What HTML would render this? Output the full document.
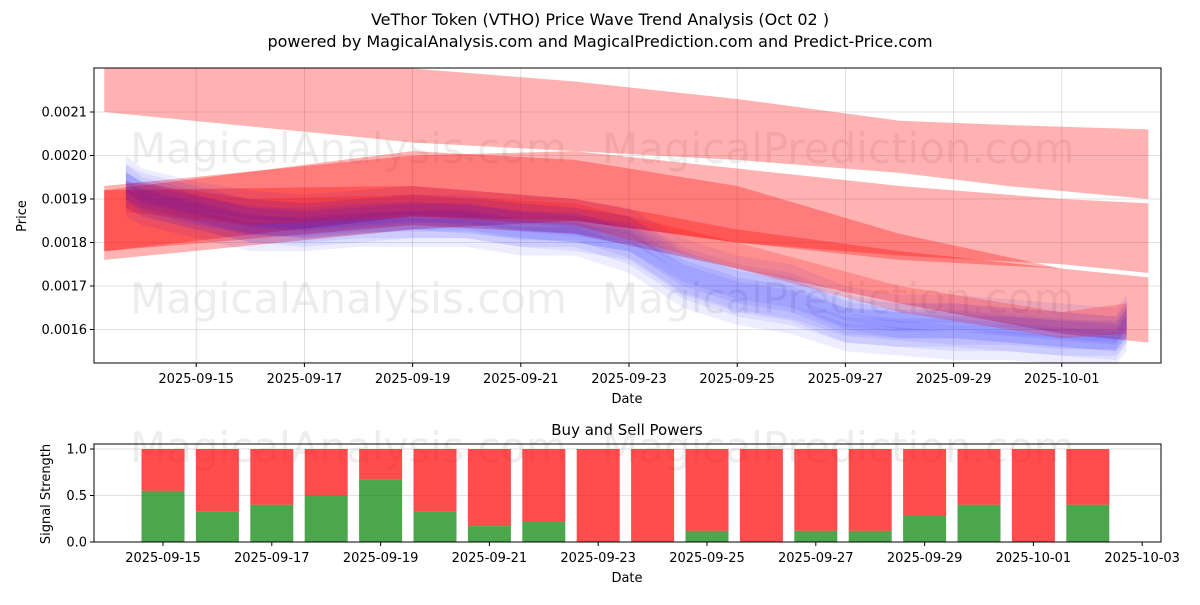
<!DOCTYPE html>
<html><head><meta charset="utf-8"><style>
body{margin:0;background:#fff;font-family:"Liberation Sans","DejaVu Sans",sans-serif}
svg text{font-family:"DejaVu Sans","Liberation Sans",sans-serif}
</style></head><body>
<svg id="c" width="1200" height="600" xmlns="http://www.w3.org/2000/svg">
<rect width="1200" height="600" fill="#fff"/>
<text x="600" y="25" text-anchor="middle" font-size="16">VeThor Token (VTHO) Price Wave Trend Analysis (Oct 02 )</text>
<text x="600" y="47" text-anchor="middle" font-size="16">powered by MagicalAnalysis.com and MagicalPrediction.com and Predict-Price.com</text>
<g id="topg"></g><g id="botg"></g>
</svg>
<script>
// ---- top chart data (day 0 = 2025-09-13) ----
const dateLabels=["2025-09-15","2025-09-17","2025-09-19","2025-09-21","2025-09-23","2025-09-25","2025-09-27","2025-09-29","2025-10-01"];
const dateDays=[2,4,6,8,10,12,14,16,18];
const priceTicks=[0.0016,0.0017,0.0018,0.0019,0.0020,0.0021];
const r1Days=[0.3,6,9,12,15,17,19.6], r1Top=[0.00220,0.00220,0.00217,0.00213,0.00208,0.00207,0.00206], r1Bot=[0.00210,0.00203,0.00201,0.00199,0.00196,0.00193,0.00190];
const r2Days=[0.3,6,9,12,15,18,19.6], r2Top=[0.00193,0.00200,0.00201,0.00197,0.00193,0.00190,0.00189], r2Bot=[0.00176,0.00183,0.00185,0.00180,0.00177,0.00175,0.00173];
const r3Days=[0.3,6,9,12,15,18], r3Top=[0.00192,0.00201,0.00199,0.00193,0.00182,0.00174], r3Bot=[0.00178,0.00186,0.00185,0.00180,0.00176,0.00174];
const r4Days=[0.3,6,9,12,15,18,19.6], r4Top=[0.00192,0.00193,0.00190,0.00183,0.00178,0.00174,0.00172], r4Bot=[0.00178,0.00184,0.00182,0.00174,0.00166,0.00159,0.00157];
const r5Days=[0.7,3,6,9,12,15,18,19.2], r5Top=[0.00194,0.00190,0.00191,0.00189,0.00180,0.00170,0.00164,0.00166], r5Bot=[0.00187,0.00184,0.00186,0.00184,0.00174,0.00164,0.00158,0.00159];
const blueDays=[0.7,1,2,3,4,5,6,7,8,9,10,11,12,13,14,15,16,17,18,19,19.2];
const blue1=[0.00193,0.00191,0.00188,0.00185,0.00184,0.00185,0.00186,0.00186,0.00184,0.00183,0.00181,0.00173,0.00169,0.00167,0.00162,0.00161,0.00161,0.00160,0.00159,0.00158,0.00162];
const blue2=[0.00191,0.00189,0.00186,0.00183,0.00183,0.00184,0.00184,0.00184,0.00182,0.00182,0.00178,0.00170,0.00166,0.00164,0.00160,0.00159,0.00158,0.00158,0.00157,0.00157,0.00160];
const blue3=[0.00195,0.00192,0.00189,0.00187,0.00186,0.00187,0.00188,0.00187,0.00186,0.00185,0.00183,0.00176,0.00172,0.00170,0.00165,0.00163,0.00163,0.00162,0.00161,0.00160,0.00163];
// ---- bottom chart data ----
const barDays=[2,3,4,5,6,7,8,9,10,11,12,13,14,15,16,17,18,19];
const buyPower=[0.55,0.33,0.4,0.5,0.67,0.33,0.17,0.22,0,0,0.12,0,0.12,0.12,0.28,0.4,0,0.4];
const bLabels=["2025-09-15","2025-09-17","2025-09-19","2025-09-21","2025-09-23","2025-09-25","2025-09-27","2025-09-29","2025-10-01","2025-10-03"];
const bLabelDays=[2,4,6,8,10,12,14,16,18,20];
const sigTicks=[0,0.5,1];

const NS="http://www.w3.org/2000/svg";
function mk(p,t,a){const e=document.createElementNS(NS,t);for(const k in a)e.setAttribute(k,a[k]);p.appendChild(e);return e;}
const T={l:94,r:1161,t:68,b:363};
const xT=d=>88+d*54.1;
const yT=v=>112+(0.0021-v)/0.0001*43.5;
const topG=document.getElementById('topg');
dateDays.forEach((d,i)=>{
 const g=mk(topG,'line',{x1:xT(d),x2:xT(d),y1:T.t,y2:T.b,stroke:'#b0b0b0','stroke-width':0.8,'stroke-opacity':0.5});
 
 mk(topG,'line',{x1:xT(d),x2:xT(d),y1:T.b,y2:T.b+4,stroke:'#000'});
 const t=mk(topG,'text',{x:xT(d),y:T.b+20,'text-anchor':'middle','font-size':13});t.textContent=dateLabels[i];
 
});
priceTicks.forEach(v=>{
 mk(topG,'line',{x1:T.l,x2:T.r,y1:yT(v),y2:yT(v),stroke:'#b0b0b0','stroke-width':0.8,'stroke-opacity':0.5});
 mk(topG,'line',{x1:T.l-4,x2:T.l,y1:yT(v),y2:yT(v),stroke:'#000'});
 const t=mk(topG,'text',{x:T.l-7,y:yT(v)+4.5,'text-anchor':'end','font-size':13});t.textContent=v.toFixed(4);
 
});
function wm(p,x,y,s){return mk(p,'text',{x:x,y:y,'font-size':s,fill:'#ccc','fill-opacity':0.35});}
let w=wm(topG,130,163,42);w.textContent="MagicalAnalysis.com";
w=wm(topG,602,163,42);w.textContent="MagicalPrediction.com";
w=wm(topG,130,313,42);w.textContent="MagicalAnalysis.com";
w=wm(topG,602,313,42);w.textContent="MagicalPrediction.com";
const clip=mk(topG,'clipPath',{id:'cp'});mk(clip,'rect',{x:T.l,y:T.t,width:T.r-T.l,height:T.b-T.t});
const plot=mk(topG,'g',{'clip-path':'url(#cp)'});
function band(days,tp,bt,col,op,name){
 let pts=days.map((d,i)=>xT(d)+','+yT(tp[i]));
 for(let i=days.length-1;i>=0;i--)pts.push(xT(days[i])+','+yT(bt[i]));
 const e=mk(plot,'polygon',{points:pts.join(' '),fill:col,'fill-opacity':op});
 
}
band(r1Days,r1Top,r1Bot,'#ff0000',0.3,'red-wave-band');
band(r2Days,r2Top,r2Bot,'#ff0000',0.3,'red-wave-band');
band(r3Days,r3Top,r3Bot,'#ff0000',0.3,'red-wave-band');
band(r4Days,r4Top,r4Bot,'#ff0000',0.3,'red-wave-band');
[blue1,blue2,blue3].forEach(s=>{
 [0.000015,0.00003,0.00005].forEach(h=>{
  band(blueDays,s.map(v=>v+h),s.map(v=>v-h),'#0000ff',0.07,'blue-wave-band');
 });
});
band(r5Days,r5Top,r5Bot,'#ff0000',0.2,'red-wave-band');
mk(topG,'rect',{x:T.l,y:T.t,width:T.r-T.l,height:T.b-T.t,fill:'none',stroke:'#000','stroke-width':1});
let tt=mk(topG,'text',{x:627,y:403,'text-anchor':'middle','font-size':13});tt.textContent="Date";
tt=mk(topG,'text',{x:0,y:0,'text-anchor':'middle','font-size':13,transform:'translate(26,216) rotate(-90)'});tt.textContent="Price";

const B={l:94,r:1161,t:444,b:542};
const botG=document.getElementById('botg');
const xB=d=>163+(d-2)*54.4;
const yB=v=>542-v*93;
tt=mk(botG,'text',{x:627,y:435,'text-anchor':'middle','font-size':15});tt.textContent="Buy and Sell Powers";
sigTicks.forEach(v=>{
 mk(botG,'line',{x1:B.l,x2:B.r,y1:yB(v),y2:yB(v),stroke:'#b0b0b0','stroke-width':0.8,'stroke-opacity':0.5});
 mk(botG,'line',{x1:B.l-4,x2:B.l,y1:yB(v),y2:yB(v),stroke:'#000'});
 const e=mk(botG,'text',{x:B.l-7,y:yB(v)+4.5,'text-anchor':'end','font-size':13});e.textContent=v.toFixed(1);
 
});
w=wm(botG,130,462,42);w.textContent="MagicalAnalysis.com";
w=wm(botG,602,462,42);w.textContent="MagicalPrediction.com";
barDays.forEach((d,i)=>{
 const bw=43,x=xB(d)-bw/2;
 const s=mk(botG,'rect',{x:x,y:yB(1),width:bw,height:yB(buyPower[i])-yB(1),fill:'#ff0000','fill-opacity':0.7});
 
 const g=mk(botG,'rect',{x:x,y:yB(buyPower[i]),width:bw,height:yB(0)-yB(buyPower[i]),fill:'#008000','fill-opacity':0.7});
 
});
bLabelDays.forEach((d,i)=>{
 mk(botG,'line',{x1:xB(d),x2:xB(d),y1:B.b,y2:B.b+4,stroke:'#000'});
 const e=mk(botG,'text',{x:xB(d),y:B.b+20,'text-anchor':'middle','font-size':13});e.textContent=bLabels[i];
 
});
mk(botG,'rect',{x:B.l,y:B.t,width:B.r-B.l,height:B.b-B.t,fill:'none',stroke:'#000','stroke-width':1});
tt=mk(botG,'text',{x:627,y:582,'text-anchor':'middle','font-size':13});tt.textContent="Date";
tt=mk(botG,'text',{x:0,y:0,'text-anchor':'middle','font-size':13,transform:'translate(50,494) rotate(-90)'});tt.textContent="Signal Strength";
</script>
</body></html>
